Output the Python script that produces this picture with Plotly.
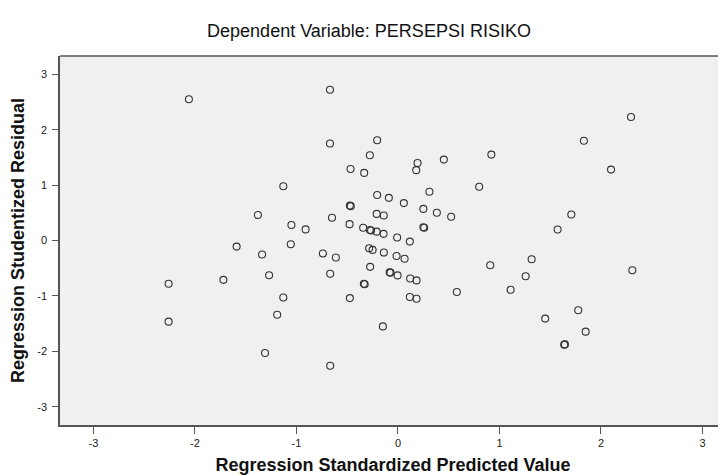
import plotly.graph_objects as go

# Regression Standardized Predicted Value
pred = [-2.06, -0.67, -0.67, -1.13, -1.38, -1.05, -0.91, -0.65, -0.205, -0.277,
        -0.467, -0.333, 0.193, 0.18, 0.452, 0.92, 0.80, 0.31, -0.205, -0.09,
        0.058, -0.474, -0.465, 0.25, 0.383, 0.524, -0.21, -0.14, -0.477, -0.343,
        -0.277, -0.265, -0.21, -0.142, 0.25, 0.258, -0.008, 0.117, -0.74, -0.612,
        -0.284, -0.25, -0.139, -0.014, 0.065, -0.668, -0.274, -0.073, -0.082, -0.004,
        0.12, 0.183, -0.336, -0.328, -0.474, 0.117, 0.183, 0.58, 0.909, 1.317,
        1.258, 1.11, 1.451, -0.149, -0.668, 1.573, 2.309, 1.776, 1.849, 1.645,
        1.638, 2.296, 1.832, 2.099, 1.708, -1.59, -1.339, -1.056, -2.26, -1.72,
        -1.27, -1.13, -1.19, -2.26, -1.31]

# Regression Studentized Residual
resid = [2.55, 2.72, 1.75, 0.98, 0.46, 0.28, 0.20, 0.41, 1.81, 1.54,
         1.29, 1.22, 1.40, 1.27, 1.46, 1.55, 0.97, 0.88, 0.82, 0.77,
         0.675, 0.63, 0.62, 0.57, 0.50, 0.43, 0.48, 0.45, 0.295, 0.23,
         0.19, 0.18, 0.16, 0.12, 0.24, 0.23, 0.055, -0.02, -0.235, -0.307,
         -0.14, -0.17, -0.217, -0.28, -0.33, -0.60, -0.476, -0.58, -0.575, -0.63,
         -0.687, -0.72, -0.78, -0.79, -1.04, -1.02, -1.05, -0.93, -0.446, -0.338,
         -0.645, -0.89, -1.41, -1.55, -2.26, 0.199, -0.537, -1.26, -1.645, -1.875,
         -1.88, 2.23, 1.80, 1.28, 0.47, -0.11, -0.253, -0.067, -0.78, -0.71,
         -0.627, -1.03, -1.34, -1.465, -2.03]

tick_vals = [-3, -2, -1, 0, 1, 2, 3]
tick_text = ["-3", "-2", "-1", "0", "1", "2", "3"]

title_text = "Dependent Variable: PERSEPSI RISIKO"
x_title = "Regression Standardized Predicted Value"
y_title = "Regression Studentized Residual"

FONT = "Liberation Sans, Arial, sans-serif"
AXIS_COLOR = "#555555"

fig = go.Figure()
fig.add_trace(go.Scatter(
    x=pred, y=resid, mode="markers",
    marker=dict(symbol="circle-open", size=7, color="#333333",
                line=dict(width=1.1, color="#333333")),
    hoverinfo="x+y", showlegend=False,
))

fig.update_layout(
    width=726, height=476,
    margin=dict(l=52, r=8, t=48, b=59, autoexpand=False),
    paper_bgcolor="white",
    plot_bgcolor="#f0f0f0",
    font=dict(family=FONT, color="#111111"),
    title=dict(text=title_text, x=361 / 726, xanchor="center",
               y=1 - 23 / 476, yanchor="middle", yref="container",
               font=dict(size=18, family=FONT, color="#111111")),
    xaxis=dict(range=[-3.33, 3.232], tickvals=tick_vals, ticktext=tick_text,
               showgrid=False, zeroline=False, showline=True, automargin=False,
               linecolor=AXIS_COLOR, linewidth=1.5, mirror=False,
               ticks="outside", ticklen=7, tickwidth=1, tickcolor=AXIS_COLOR,
               tickfont=dict(size=11, color="#222222"),
               title=dict(text="<b>" + x_title + "</b>", standoff=10,
                          font=dict(size=18, color="#111111"))),
    yaxis=dict(range=[-3.33, 3.33], tickvals=tick_vals, ticktext=tick_text,
               showgrid=False, zeroline=False, showline=True, automargin=False,
               linecolor=AXIS_COLOR, linewidth=1.5, mirror=False,
               ticks="outside", ticklen=6, tickwidth=1, tickcolor=AXIS_COLOR,
               ticklabelstandoff=3,
               tickfont=dict(size=11, color="#222222"),
               title=dict(text="<b>" + y_title + "</b>", standoff=10,
                          font=dict(size=18, color="#111111"))),
    shapes=[
        dict(type="line", xref="paper", yref="paper", x0=0, x1=1, y0=1, y1=1,
             line=dict(color=AXIS_COLOR, width=1.5)),
    ],
)

fig.write_html("out.html")
